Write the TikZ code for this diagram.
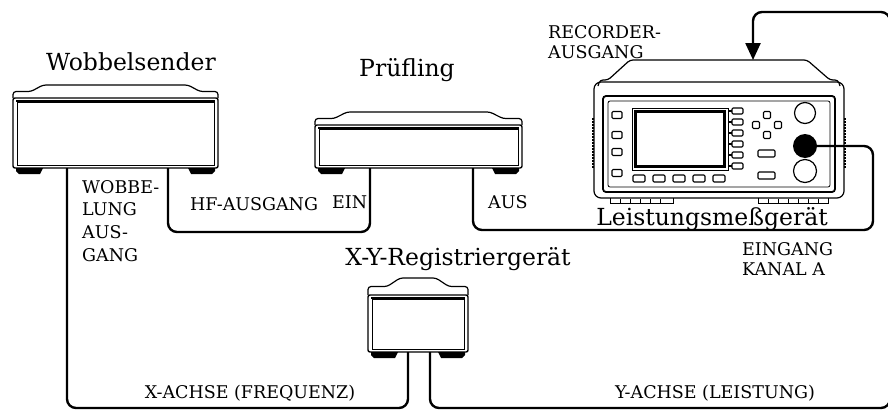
\documentclass[tikz,border=0pt]{standalone}
\usepackage{fontspec}
\setmainfont{DejaVu Serif}
\usepackage{tikz}
\usetikzlibrary{arrows.meta,calc}

\tikzset{
  cable/.style={line width=2.4pt, rounded corners=9pt},
  devname/.style={inner sep=0pt, anchor=base, font=\fontsize{23.5}{28}\selectfont},
  portname/.style={inner sep=0pt, align=left, anchor=north west, font=\fontsize{17.5}{20}\selectfont},
  btn/.style={line width=1.1pt, rounded corners=1.2pt},
  % bench instrument: width, height, lid height, lid inset
  pics/bench unit/.style n args={4}{code={
    \draw[line width=1.2pt, rounded corners=3pt] (0,0) -- (0,-#3/2) -- (0.6*#4,-#3/2) -- (#4,-#3)
      -- (#1-#4,-#3) -- (#1-0.6*#4,-#3/2) -- (#1,-#3/2) -- (#1,0);
    \draw[line width=1.4pt, rounded corners=2pt] (0,0) rectangle (#1,#2);
    \draw[line width=0.9pt] (4,4) rectangle (#1-4,#2-3);
    \draw[line width=2.2pt] (3,3) -- (#1-3,3);
    \fill (3,#2) -- (3,#2+3) -- (6,#2+6) -- (27,#2+6) -- (30,#2) -- cycle;
    \fill (#1-3,#2) -- (#1-3,#2+3) -- (#1-6,#2+6) -- (#1-27,#2+6) -- (#1-30,#2) -- cycle;
  }}
}

\begin{document}
\begin{tikzpicture}[x=1pt, y=-1pt]
  \useasboundingbox (0,0) rectangle (888,410);
  \clip (0,0) rectangle (888,410);

  % the three bench units
  \pic at (13,98) {bench unit={205}{70}{13}{30}};
  \pic at (315,125) {bench unit={207}{43}{13}{32}};
  \pic at (368,295) {bench unit={100}{57}{17}{32}};

  % power meter
  \draw[line width=1.2pt, rounded corners=3pt] (598,86) -- (600,80) -- (608,80) -- (630,60) -- (807,60)
    -- (830,80) -- (838,80) -- (840,86);
  \draw[line width=1.2pt, rounded corners=7pt] (594,82) rectangle (844,198);
  \draw[line width=1.8pt, rounded corners=3pt] (603,96) rectangle (835,192);
  \draw[line width=0.8pt, rounded corners=2pt] (608,101) rectangle (830,187);
  \draw[line width=1.6pt, dash pattern=on 1.5pt off 1.5pt] (593,118) -- (593,168);
  \draw[line width=1.6pt, dash pattern=on 1.5pt off 1.5pt] (845,118) -- (845,168);
  \draw[line width=1pt] (610,198) -- (610,203) -- (673,203) -- (673,198);
  \draw[line width=1pt] (758,198) -- (758,203) -- (828,203) -- (828,198);
  \foreach \x in {620,630,...,663}
    \draw[line width=1pt] (\x,203) -- (\x,199);
  \foreach \x in {768,778,...,818}
    \draw[line width=1pt] (\x,203) -- (\x,199);
  % display and soft keys
  \draw[line width=1pt] (632,108) rectangle (728,170);
  \draw[line width=2.6pt] (635.5,111.5) rectangle (724.5,166.5);
  \foreach \y in {111,122,...,166} {
    \draw[btn] (732,\y-3) rectangle (743,\y+3);
    \draw[line width=1.5pt] (728,\y) -- (732,\y);
  }
  \foreach \x in {633,653,...,713}
    \draw[btn] (\x,175) rectangle (\x+12,182);
  \foreach \y in {115,135,152,173}
    \draw[btn] (612,\y-3.5) rectangle (622,\y+3.5);
  \foreach \x/\y in {767/115,756/125,778/125,767/135}
    \draw[btn] (\x-3.5,\y-3.5) rectangle (\x+3.5,\y+3.5);
  \draw[btn] (758,150) rectangle (775,157);
  \draw[btn] (758,172) rectangle (775,179);
  \draw[line width=1.2pt] (805,113) circle (10.5);
  \fill (805,146) circle (12);
  \draw[line width=1.2pt] (805,171) circle (11.5);

  % ports
  \coordinate (sweep-x) at (67,168);
  \coordinate (sweep-rf) at (168,168);
  \coordinate (dut-in) at (370,168);
  \coordinate (dut-out) at (473,168);
  \coordinate (xy-x) at (408,352);
  \coordinate (xy-y) at (430,352);
  \coordinate (meter-in) at (805,146);
  \coordinate (meter-rec) at (753,60);
  \coordinate (floor) at (0,408);
  \coordinate (loop) at (873,230);
  \coordinate (edge) at (890,12);

  % cables
  \draw[cable] (sweep-x) |- (xy-x |- floor) -- (xy-x);
  \draw[cable] (sweep-rf) -- ++(0,64) -| (dut-in);
  \draw[cable] (dut-out) |- (loop) |- (meter-in);
  \draw[cable, -{Triangle[length=17pt, width=15pt]}] (xy-y) -- (xy-y |- floor) -| (edge) -| (meter-rec);

  % labels
  \node[devname] (sweep-name) at (131,70) {Wobbelsender};
  \node[devname] (dut-name) at (407,76) {Prüfling};
  \node[devname] (xy-name) at (458,265) {X-Y-Registriergerät};
  \node[devname] (meter-name) at (712,225) {Leistungsmeßgerät};
  \node[portname, font=\fontsize{17.5}{22.7}\selectfont] (sweep-x-name) at (82,180) {WOBBE-\\LUNG\\AUS-\\GANG};
  \node[portname, anchor=base west] (sweep-rf-name) at (190,210) {HF-AUSGANG};
  \node[portname, anchor=base west] (dut-in-name) at (332,208) {EIN};
  \node[portname, anchor=base west] (dut-out-name) at (488,208) {AUS};
  \node[portname] (meter-rec-name) at (548,25) {RECORDER-\\AUSGANG};
  \node[portname] (meter-in-name) at (742,242) {EINGANG\\KANAL A};
  \node[portname, anchor=base] (x-axis-name) at (250,398) {X-ACHSE (FREQUENZ)};
  \node[portname, anchor=base] (y-axis-name) at (715,398) {Y-ACHSE (LEISTUNG)};
\end{tikzpicture}
\end{document}
